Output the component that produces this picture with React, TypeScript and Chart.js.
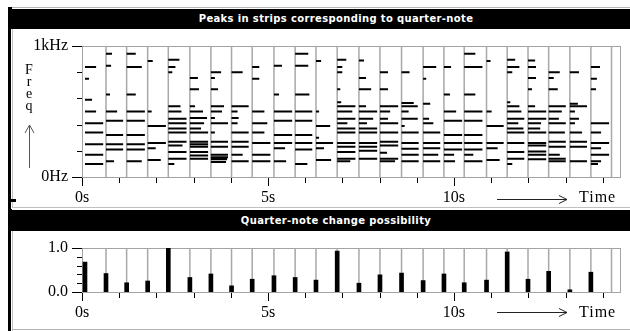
import React, { useEffect, useRef } from "react";
import { Chart, registerables } from "chart.js";

Chart.register(...registerables);

// ---------- data ----------
const PANEL_TITLES = ["Peaks in strips corresponding to quarter-note", "Quarter-note change possibility"];

// start time (s) of each quarter-note strip
const STRIP_STARTS = [0.08, 0.645, 1.2, 1.765, 2.32, 2.9, 3.465, 4.02, 4.575, 5.16, 5.73, 6.29, 6.86, 7.445, 8.01, 8.59, 9.17, 9.73, 10.275, 10.875, 11.43, 11.99, 12.545, 13.115, 13.68, 14.235];

// change possibility at the start of each strip
const CHANGE_POSSIBILITY = [0.68, 0.42, 0.21, 0.25, 1.0, 0.33, 0.41, 0.14, 0.29, 0.37, 0.33, 0.27, 0.93, 0.2, 0.39, 0.43, 0.26, 0.41, 0.21, 0.27, 0.91, 0.29, 0.47, 0.05, 0.45];

// peak frequencies (Hz) found in each strip
const PEAK_FREQS_HZ = [
  [840, 750, 590, 500, 410, 340, 250, 170, 100],
  [940, 850, 630, 500, 430, 320, 250, 210, 120],
  [940, 840, 630, 500, 430, 320, 250, 210, 120],
  [885, 500, 390, 260, 220, 130],
  [895, 840, 800, 540, 500, 445, 410, 370, 340, 270, 240, 190, 140, 100],
  [755, 670, 540, 500, 450, 410, 370, 340, 270, 250, 230, 190, 165, 140],
  [800, 755, 670, 540, 500, 450, 410, 340, 270, 230, 170, 150, 135, 115],
  [800, 540, 500, 450, 410, 340, 270, 230, 170, 120],
  [840, 750, 500, 410, 340, 260, 170, 120],
  [850, 630, 500, 430, 320, 260, 220, 120],
  [940, 850, 630, 500, 430, 320, 260, 210, 100],
  [885, 500, 390, 300, 260, 220, 130],
  [895, 840, 800, 670, 570, 540, 500, 445, 410, 370, 340, 260, 230, 190, 140, 120],
  [890, 755, 670, 540, 500, 445, 410, 370, 340, 260, 230, 200, 140],
  [800, 670, 540, 500, 445, 410, 340, 270, 240, 185, 140, 120],
  [800, 565, 540, 500, 445, 390, 340, 260, 215, 170, 120],
  [840, 750, 560, 445, 410, 340, 260, 220, 170, 120],
  [840, 630, 500, 430, 320, 260, 210, 170, 120],
  [940, 840, 630, 500, 430, 320, 260, 210, 170, 120],
  [885, 500, 390, 260, 220, 130],
  [895, 840, 800, 570, 540, 500, 445, 410, 370, 340, 260, 190, 140, 100],
  [890, 840, 755, 670, 540, 500, 445, 410, 370, 340, 260, 240, 195, 170, 135],
  [800, 755, 670, 540, 500, 445, 410, 340, 270, 230, 170, 140, 120],
  [800, 560, 540, 500, 445, 410, 340, 270, 230, 120],
  [840, 750, 670, 410, 340, 260, 220, 170, 120, 100],
  [],
];

// relative magnitude (0..1) of each peak, drawn as the segment length
const PEAK_MAGS = [
  [0.61, 0.22, 0.39, 0.61, 1, 1, 1, 1, 1],
  [0.33, 0.28, 0.22, 0.61, 0.94, 0.94, 0.94, 0.94, 0.44],
  [0.5, 0.83, 0.5, 1, 1, 1, 1, 1, 0.83],
  [0.28, 0.22, 1, 1, 0.44, 0.72],
  [0.61, 0.39, 0.22, 0.67, 0.72, 1, 1, 1, 1, 1, 0.78, 1, 1, 0.33],
  [0.44, 0.5, 0.28, 0.72, 0.94, 0.78, 0.61, 1, 1, 1, 1, 1, 1, 1],
  [0.56, 0.22, 0.39, 0.72, 0.61, 0.22, 0.94, 0.22, 0.94, 0.94, 0.94, 0.94, 0.89, 0.83],
  [0.61, 0.94, 0.33, 0.39, 0.33, 0.94, 0.94, 0.94, 0.61, 0.94],
  [0.39, 0.39, 0.67, 0.83, 0.67, 1, 1, 1],
  [0.44, 0.28, 1, 1, 1, 1, 0.61, 0.67],
  [0.72, 0.72, 0.78, 0.94, 0.94, 0.94, 0.94, 0.94, 0.67],
  [0.28, 0.17, 0.78, 0.17, 0.94, 0.44, 0.83],
  [0.5, 0.28, 0.28, 0.17, 0.22, 1, 0.83, 1, 0.56, 1, 1, 1, 1, 1, 1, 0.72],
  [0.28, 0.39, 0.67, 0.39, 1, 0.78, 0.44, 1, 1, 1, 1, 1, 1],
  [0.44, 0.44, 1, 0.56, 0.44, 1, 1, 1, 1, 0.39, 1, 0.83],
  [0.44, 0.67, 0.89, 0.39, 0.89, 0.17, 0.94, 0.94, 0.94, 0.94, 0.94],
  [0.72, 0.17, 0.39, 0.33, 0.56, 0.94, 0.94, 0.94, 0.83, 0.94],
  [0.39, 0.33, 0.67, 1, 1, 1, 1, 0.56, 0.61],
  [0.61, 1, 0.61, 1, 1, 1, 1, 1, 0.5, 1],
  [0.22, 0.28, 0.94, 0.94, 0.61, 0.72],
  [0.44, 0.67, 0.28, 0.17, 0.67, 0.78, 0.94, 0.61, 0.89, 0.94, 0.94, 0.94, 0.94, 0.28],
  [0.39, 0.44, 0.44, 0.22, 0.39, 1, 1, 0.72, 0.67, 1, 1, 1, 1, 1, 1],
  [0.61, 0.28, 0.5, 0.94, 0.72, 0.56, 0.94, 0.89, 0.94, 0.94, 0.61, 0.94, 0.94],
  [0.5, 0.44, 0.94, 0.28, 0.5, 0.28, 0.67, 0.94, 0.94, 0.94],
  [0.5, 0.33, 0.28, 1, 0.56, 1, 0.56, 1, 0.56, 0.39],
  [],
];

const TIME_TICKS = [0, 1, 2, 3, 4, 5, 6, 7, 8, 9, 10, 11, 12, 13, 14];
const TIME_LABELS: Record<number, string> = { 0: "0s", 5: "5s", 10: "10s" };
const FREQ_TICKS = [0, 200, 400, 600, 800, 1000];
const FREQ_LABELS: Record<number, string> = { 0: "0Hz", 1000: "1kHz" };
const PROB_TICKS = [0, 0.2, 0.4, 0.6, 0.8, 1];
const PROB_LABELS: Record<number, string> = { 0: "0.0", 1: "1.0" };
const FREQ_AXIS_LETTERS = ["F", "r", "e", "q"];
const TIME_WORD = "Time";

// ---------- scale / style constants ----------
const TIME_MAX = 14.49;
const PEAK_SPAN_SEC = 0.49;
const BAR_SHIFT_SEC = 0.054;
const FRAME_COLOR = "#a3a3a3";
const STRIP_COLOR = "#a8a8a8";
const SERIF = "'Liberation Serif', 'Times New Roman', serif";

function decorPlugin(xMajor: number[], yMajor: number[]) {
  return {
    id: "decor",
    beforeDatasetsDraw(chart: any) {
      const { ctx, chartArea: a } = chart;
      ctx.save();
      ctx.strokeStyle = FRAME_COLOR;
      ctx.lineWidth = 1;
      const l = Math.round(a.left) + 0.5;
      const t = Math.round(a.top) + 0.5;
      const r = Math.round(a.right) - 0.5;
      const b = Math.round(a.bottom) + 0.5;
      ctx.strokeRect(l, t, r - l, b - t);
      ctx.restore();
    },
    afterDraw(chart: any) {
      const { ctx, chartArea: a, scales } = chart;
      ctx.save();
      ctx.strokeStyle = "#000";
      ctx.lineWidth = 1;
      ctx.beginPath();
      const b = Math.round(a.bottom) + 1;
      scales.x.ticks.forEach((tk: any) => {
        const px = Math.round(scales.x.getPixelForValue(tk.value)) + 0.5;
        const len = xMajor.includes(tk.value) ? 8 : 5;
        ctx.moveTo(px, b);
        ctx.lineTo(px, b + len);
      });
      const l = Math.round(a.left);
      scales.y.ticks.forEach((tk: any) => {
        const py = Math.round(scales.y.getPixelForValue(tk.value)) + 0.5;
        const len = yMajor.includes(tk.value) ? 10 : 5;
        ctx.moveTo(l - len, py);
        ctx.lineTo(l, py);
      });
      ctx.stroke();
      ctx.restore();
    },
  };
}

function timeScale(axisHeight: number) {
  return {
    type: "linear" as const,
    min: 0,
    max: TIME_MAX,
    offset: false,
    grid: { display: false, drawTicks: false, offset: false },
    border: { display: false },
    afterBuildTicks: (s: any) => {
      s.ticks = TIME_TICKS.map((v) => ({ value: v }));
    },
    afterFit: (s: any) => {
      s.height = axisHeight;
      s.paddingTop = 0;
      s.paddingBottom = 0;
    },
    ticks: {
      autoSkip: false,
      maxRotation: 0,
      padding: 11,
      color: "#000",
      font: { family: SERIF, size: 16 },
      callback: (v: any) => TIME_LABELS[v as number] ?? "",
    },
  };
}

function valueScale(min: number, max: number, ticks: number[], labels: Record<number, string>) {
  return {
    type: "linear" as const,
    min,
    max,
    grid: { display: false, drawTicks: false },
    border: { display: false },
    afterBuildTicks: (s: any) => {
      s.ticks = ticks.map((v) => ({ value: v }));
    },
    afterFit: (s: any) => {
      s.width = 82;
      s.paddingTop = 0;
      s.paddingBottom = 0;
    },
    ticks: {
      autoSkip: false,
      padding: 14,
      color: "#000",
      font: { family: SERIF, size: 16 },
      callback: (v: any) => labels[v as number] ?? "",
    },
  };
}

function boundaryLines(yMin: number, yMax: number) {
  const pts: { x: number; y: number | null }[] = [];
  STRIP_STARTS.slice(1).forEach((t) => {
    pts.push({ x: t, y: yMin }, { x: t, y: yMax }, { x: t, y: null });
  });
  return pts;
}

function PeaksChart() {
  const ref = useRef<HTMLCanvasElement>(null);
  useEffect(() => {
    const peaks: { x: number; y: number | null }[] = [];
    PEAK_FREQS_HZ.forEach((freqs, i) => {
      const t0 = STRIP_STARTS[i];
      freqs.forEach((f, j) => {
        peaks.push({ x: t0, y: f }, { x: t0 + PEAK_MAGS[i][j] * PEAK_SPAN_SEC, y: f }, { x: t0, y: null });
      });
    });
    const chart = new Chart(ref.current!, {
      type: "scatter",
      data: {
        datasets: [
          {
            data: peaks as any,
            showLine: true,
            spanGaps: false,
            borderColor: "#000",
            borderWidth: 2,
            borderCapStyle: "butt",
            pointRadius: 0,
            order: 0,
          } as any,
          {
            data: boundaryLines(0, 1000) as any,
            showLine: true,
            spanGaps: false,
            borderColor: STRIP_COLOR,
            borderWidth: 1.5,
            pointRadius: 0,
            order: 1,
          } as any,
        ],
      },
      options: {
        responsive: false,
        animation: false,
        devicePixelRatio: 1,
        layout: { padding: { top: 16, right: 9, left: 0, bottom: 0 } },
        plugins: { legend: { display: false }, tooltip: { enabled: false } },
        events: [],
        scales: {
          x: timeScale(33) as any,
          y: valueScale(0, 1000, FREQ_TICKS, FREQ_LABELS) as any,
        },
      },
      plugins: [decorPlugin([0, 5, 10], [0, 1000])],
    });
    return () => chart.destroy();
  }, []);
  return <canvas ref={ref} width={630} height={180} style={{ position: "absolute", left: 0, top: 30, width: 630, height: 180 }} />;
}

function ChangeChart() {
  const ref = useRef<HTMLCanvasElement>(null);
  useEffect(() => {
    const chart = new Chart(ref.current!, {
      type: "bar",
      data: {
        datasets: [
          {
            type: "bar",
            data: CHANGE_POSSIBILITY.map((v, i) => ({ x: STRIP_STARTS[i], y: v })) as any,
            xAxisID: "xBar",
            backgroundColor: "#000",
            borderWidth: 0,
            barThickness: 4,
            order: 0,
          } as any,
          {
            type: "scatter",
            data: boundaryLines(0, 1) as any,
            showLine: true,
            spanGaps: false,
            borderColor: STRIP_COLOR,
            borderWidth: 1.5,
            pointRadius: 0,
            order: 1,
          } as any,
        ],
      },
      options: {
        responsive: false,
        animation: false,
        devicePixelRatio: 1,
        layout: { padding: { top: 18, right: 9, left: 0, bottom: 0 } },
        plugins: { legend: { display: false }, tooltip: { enabled: false } },
        events: [],
        scales: {
          x: timeScale(39) as any,
          xBar: {
            type: "linear",
            display: false,
            offset: false,
            min: -BAR_SHIFT_SEC,
            max: TIME_MAX - BAR_SHIFT_SEC,
          } as any,
          y: valueScale(0, 1, PROB_TICKS, PROB_LABELS) as any,
        },
      },
      plugins: [decorPlugin([0, 5, 10], [0, 1])],
    });
    return () => chart.destroy();
  }, []);
  return <canvas ref={ref} width={630} height={101} style={{ position: "absolute", left: 0, top: 230, width: 630, height: 101 }} />;
}

const abs = (s: React.CSSProperties): React.CSSProperties => ({ position: "absolute", ...s });

function TitleBar({ top, height, text }: { top: number; height: number; text: string }) {
  return (
    <div style={abs({ left: 10, top, width: 620, height, background: "#000" })}>
      <div
        style={abs({
          left: 326,
          top: 0,
          height,
          lineHeight: height + "px",
          transform: "translateX(-50%)",
          whiteSpace: "nowrap",
          color: "#fff",
          fontFamily: "'DejaVu Sans', sans-serif",
          fontWeight: "bold",
          fontSize: 10,
          letterSpacing: 0.35,
        })}
      >
        {text}
      </div>
    </div>
  );
}

function TimeArrow({ y }: { y: number }) {
  return (
    <>
      <line x1={497} y1={y} x2={567} y2={y} stroke="#222" strokeWidth={1} />
      <polyline points={`559,${y - 4} 567,${y} 559,${y + 4}`} fill="none" stroke="#222" strokeWidth={1} />
    </>
  );
}

export default function App() {
  return (
    <div style={{ position: "fixed", left: 0, top: 0, width: 630, height: 331, background: "#fff", overflow: "hidden" }}>
      <PeaksChart />
      <ChangeChart />
      {/* panel frames */}
      <div style={abs({ left: 11, top: 7, width: 619, height: 1, background: "#b5b5b5" })} />
      <div style={abs({ left: 12, top: 29, width: 1, height: 178, background: "#c0c0c0" })} />
      <div style={abs({ left: 12, top: 207, width: 618, height: 1, background: "#c0c0c0" })} />
      <div style={abs({ left: 12, top: 231, width: 1, height: 100, background: "#c0c0c0" })} />
      <div style={abs({ left: 12, top: 329, width: 618, height: 1, background: "#b5b5b5" })} />
      <div style={abs({ left: 8, top: 7, width: 3, height: 324, background: "#000" })} />
      <div style={abs({ left: 8, top: 7, width: 4, height: 3, background: "#000" })} />
      <div style={abs({ left: 8, top: 199, width: 8, height: 3, background: "#000" })} />
      <div style={abs({ left: 8, top: 209, width: 4, height: 3, background: "#000" })} />
      <TitleBar top={9} height={20} text={PANEL_TITLES[0]} />
      <TitleBar top={210} height={21} text={PANEL_TITLES[1]} />
      {/* vertical frequency label */}
      <div style={abs({ left: 21, top: 64, width: 16, textAlign: "center", fontFamily: SERIF, fontSize: 14, lineHeight: "12px", color: "#000" })}>
        {FREQ_AXIS_LETTERS.map((c) => (
          <div key={c}>{c}</div>
        ))}
      </div>
      {/* time labels */}
      <div style={abs({ left: 579, top: 189, fontFamily: SERIF, fontSize: 16, lineHeight: "16px", letterSpacing: 1, color: "#000" })}>{TIME_WORD}</div>
      <div style={abs({ left: 579, top: 304, fontFamily: SERIF, fontSize: 16, lineHeight: "16px", letterSpacing: 1, color: "#000" })}>{TIME_WORD}</div>
      <svg width={630} height={331} style={abs({ left: 0, top: 0, pointerEvents: "none" })}>
        <line x1={29.5} y1={168} x2={29.5} y2={125} stroke="#555" strokeWidth={1} />
        <polyline points="25,133 29.5,125 34,133" fill="none" stroke="#555" strokeWidth={1} />
        <TimeArrow y={199.5} />
        <TimeArrow y={312.5} />
      </svg>
    </div>
  );
}
